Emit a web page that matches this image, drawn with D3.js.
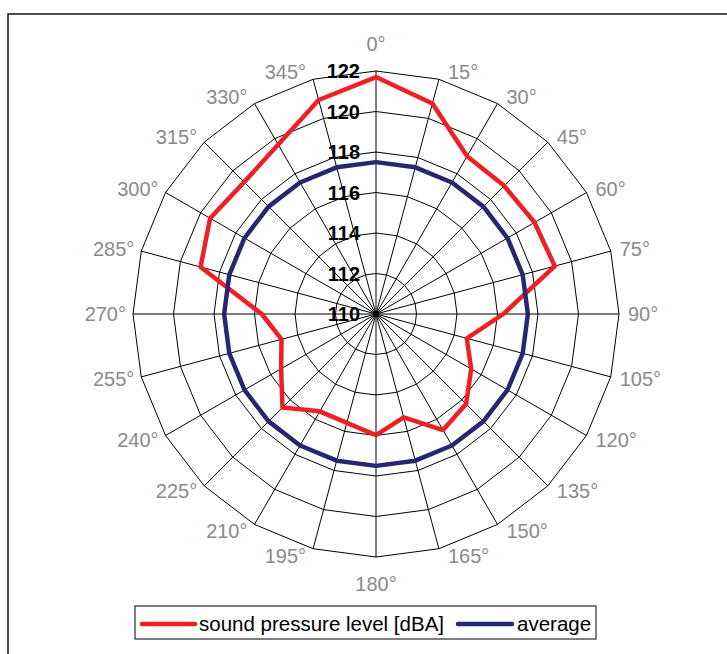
<!DOCTYPE html>
<html>
<head>
<meta charset="utf-8">
<script src="https://cdn.jsdelivr.net/npm/d3@7"></script>
<style>
  html, body { margin: 0; padding: 0; background: #fff; }
  svg { display: block; }
</style>
</head>
<body>
<svg id="chart" width="727" height="654"></svg>
<script>
// ---- data ----
const angles = [0, 15, 30, 45, 60, 75, 90, 105, 120, 135, 150, 165,
                180, 195, 210, 225, 240, 255, 270, 285, 300, 315, 330, 345];
const soundPressure = [121.7, 120.76, 119.0, 118.95, 119.04, 119.14, 116.29, 114.64,
                       115.43, 116.29, 116.62, 115.28, 115.98, 115.57, 115.55, 116.53,
                       115.41, 114.83, 115.64, 118.97, 119.46, 119.21, 119.66, 120.94];
const average = [117.5, 117.5, 117.5, 117.5, 117.5, 117.5, 117.5, 117.5,
                 117.5, 117.5, 117.5, 117.5, 117.5, 117.5, 117.5, 117.5,
                 117.5, 117.5, 117.5, 117.5, 117.5, 117.5, 117.5, 117.5];
const radialTicks = [110, 112, 114, 116, 118, 120, 122];
const seriesNames = ["sound pressure level [dBA]", "average"];
const seriesColors = ["#ed2024", "#262673"];

// ---- layout ----
const svg = d3.select("#chart");
const cx = 376, cy = 314;
const R = 243;
const r = d3.scaleLinear().domain([110, 122]).range([0, R]);
const toRad = d => d * Math.PI / 180;

// outer frame
svg.append("rect")
  .attr("x", 8).attr("y", 14)
  .attr("width", 740).attr("height", 700)
  .attr("fill", "none").attr("stroke", "#222").attr("stroke-width", 1.6);

const g = svg.append("g").attr("transform", `translate(${cx},${cy})`);

// rings (polygons)
const ringLine = d3.lineRadial()
  .angle(d => toRad(d))
  .curve(d3.curveLinearClosed);
radialTicks.slice(1).forEach(t => {
  g.append("path")
    .attr("d", ringLine.radius(() => r(t))(angles))
    .attr("fill", "none").attr("stroke", "#000").attr("stroke-width", 1);
});

// spokes
g.selectAll("line.spoke").data(angles).enter().append("line")
  .attr("class", "spoke")
  .attr("x1", 0).attr("y1", 0)
  .attr("x2", d => R * Math.sin(toRad(d)))
  .attr("y2", d => -R * Math.cos(toRad(d)))
  .attr("stroke", "#000").attr("stroke-width", 1);

// angle labels
angles.forEach(a => {
  const s = Math.sin(toRad(a)), c = Math.cos(toRad(a));
  const vx = R * s, vy = -R * c;
  let x, y, anchor;
  if (Math.abs(s) < 0.01) {
    x = vx; anchor = "middle";
    y = vy + (c > 0 ? -27 : 27);
  } else {
    anchor = s > 0 ? "start" : "end";
    x = vx + (s > 0 ? 9 : -7);
    y = vy - 8 * c;
  }
  g.append("text")
    .attr("x", x).attr("y", y)
    .attr("text-anchor", anchor)
    .attr("dominant-baseline", "central")
    .attr("font-family", "Liberation Sans, Arial, sans-serif")
    .attr("font-size", 20)
    .attr("fill", "#8a8a8a")
    .text(a + "°");
});

// series
const seriesLine = d3.lineRadial()
  .angle((d, i) => toRad(angles[i]))
  .radius(d => r(d))
  .curve(d3.curveLinearClosed);

[soundPressure, average].forEach((vals, k) => {
  g.append("path")
    .attr("d", seriesLine(vals))
    .attr("fill", "none")
    .attr("stroke", seriesColors[k])
    .attr("stroke-width", 4.5)
    .attr("stroke-linejoin", "round");
});

// radial tick labels
radialTicks.forEach(t => {
  g.append("text")
    .attr("x", -16).attr("y", -r(t))
    .attr("text-anchor", "end")
    .attr("dominant-baseline", "central")
    .attr("font-family", "Liberation Sans, Arial, sans-serif")
    .attr("font-weight", "bold")
    .attr("font-size", 20)
    .attr("fill", "#000")
    .text(t);
});

// legend
const lg = svg.append("g");
lg.append("rect")
  .attr("x", 135).attr("y", 606).attr("width", 461).attr("height", 33)
  .attr("fill", "#fff").attr("stroke", "#000").attr("stroke-width", 1);
const legendItems = [
  { x1: 142, x2: 195, tx: 199 },
  { x1: 458, x2: 512, tx: 517 }
];
legendItems.forEach((it, k) => {
  lg.append("line")
    .attr("x1", it.x1).attr("x2", it.x2).attr("y1", 624).attr("y2", 624)
    .attr("stroke", seriesColors[k]).attr("stroke-width", 4.5)
    .attr("stroke-linecap", "round");
  lg.append("text")
    .attr("x", it.tx).attr("y", 631)
    .attr("font-family", "Liberation Sans, Arial, sans-serif")
    .attr("font-size", 20.5)
    .attr("fill", "#000")
    .text(seriesNames[k]);
});
</script>
</body>
</html>
